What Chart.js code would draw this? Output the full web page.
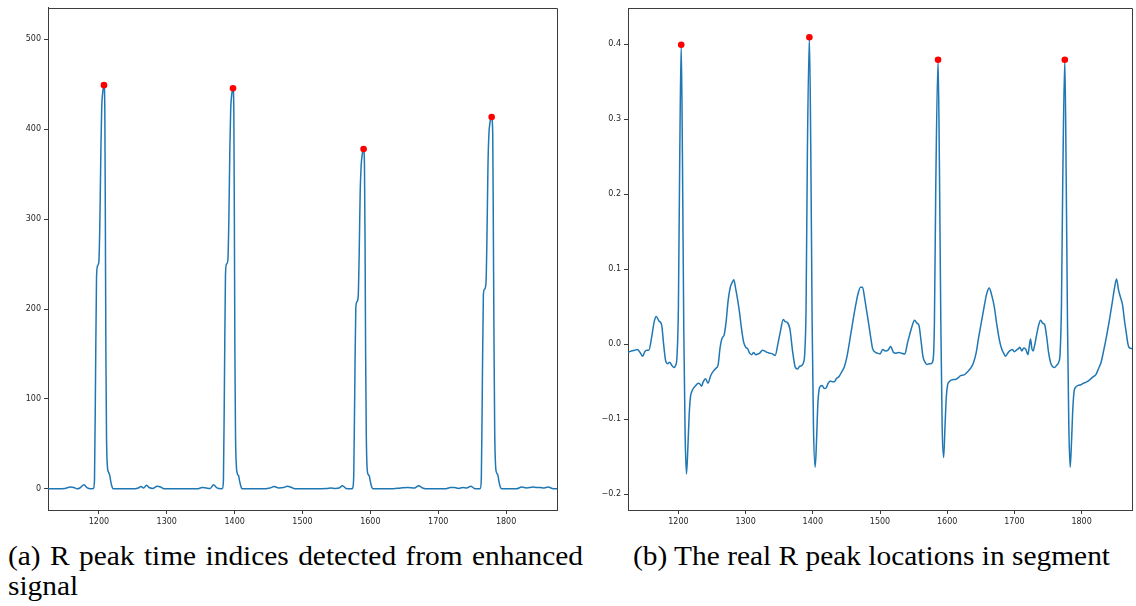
<!DOCTYPE html>
<html>
<head>
<meta charset="utf-8">
<script src="https://cdn.jsdelivr.net/npm/chart.js@4.4.1/dist/chart.umd.min.js"></script>
<style>
  body { margin: 0; background: #fff; width: 1136px; height: 606px; overflow: hidden; position: relative; }
  canvas { position: absolute; top: 0; }
  #enhanced { left: 0; }
  #segment { left: 580px; }
  .caption { position: absolute; font-family: "Liberation Serif", serif; font-size: 27px; line-height: 27px; color: #000; white-space: nowrap; transform-origin: 0 0; }
  #capA1 { left: 8px; top: 543px; }
  #capA2 { left: 8px; top: 573px; }
  #capB { left: 633px; top: 543px; }
</style>
</head>
<body>
<canvas id="enhanced" width="570" height="540"></canvas>
<canvas id="segment" width="556" height="540"></canvas>
<div class="caption" id="capA1">(a) R peak time indices detected from enhanced</div>
<div class="caption" id="capA2">signal</div>
<div class="caption" id="capB">(b) The real R peak locations in segment</div>
<script>
// enhanced signal: [sample index, amplitude]
const enhancedSignal = [
  [1125, 0], [1140, 0], [1150, 0.5], [1158, 2], [1163, 1.5], [1168, 0], [1172, 1], [1178, 4.5],
  [1183, 1], [1188, 0], [1192, 0.5],
  [1193.5, 10], [1195, 120], [1196.5, 235], [1198, 248], [1200, 253], [1201.5, 300], [1203, 380],
  [1204.2, 425], [1205.5, 440], [1207.5, 449], [1208.7, 425], [1209.5, 300], [1210.3, 150],
  [1211.2, 60], [1212.5, 25], [1214, 19], [1216, 15], [1217.5, 8], [1219.5, 2], [1221, 0],
  [1240, 0], [1250, 0], [1258, 1], [1262, 2.5], [1266, 1], [1270, 4], [1274, 1.5], [1279, 0.5],
  [1286, 3], [1291, 2], [1296, 0], [1320, 0], [1345, 0], [1352, 1.5], [1358, 1], [1364, 0.5],
  [1369, 4.5], [1374, 1], [1380, 0], [1382, 0.5],
  [1383.5, 10], [1385, 120], [1386.5, 238], [1388, 250], [1390, 254], [1391.5, 300], [1393, 380],
  [1394.2, 422], [1395.5, 437], [1397.6, 445.5], [1398.8, 422], [1399.6, 300], [1400.4, 150],
  [1401.3, 60], [1402.6, 25], [1404, 17], [1406, 14], [1407.5, 8], [1409.5, 2], [1411, 0],
  [1440, 0], [1452, 1], [1458, 2.5], [1465, 1], [1472, 1.5], [1478, 3], [1484, 1.5], [1490, 0],
  [1520, 0], [1536, 0.5], [1542, 1], [1548, 0.5], [1554, 1], [1559, 3.5], [1564, 0.5], [1572, 0], [1574, 1],
  [1575.5, 15], [1577, 110], [1578.5, 200], [1580, 208], [1582, 213], [1583.5, 260], [1585, 330],
  [1586.5, 360], [1588, 372], [1590, 378], [1591.3, 360], [1592.2, 270], [1593, 150], [1594, 60],
  [1595.3, 22], [1596.8, 16], [1598.5, 14], [1600, 8], [1602, 2], [1604, 0],
  [1630, 0], [1645, 1], [1655, 1.5], [1665, 1], [1671, 3.5], [1677, 1], [1685, 0],
  [1710, 0], [1718, 1.5], [1724, 1.5], [1730, 0.5], [1736, 1.5], [1742, 1], [1748, 3], [1753, 0.5],
  [1760, 0], [1762, 0.5],
  [1763.5, 12], [1765, 115], [1766.5, 215], [1768, 222], [1770.3, 228], [1771.8, 280], [1773.3, 360],
  [1774.7, 395], [1776.2, 407], [1778.7, 413.5], [1780.3, 395], [1781.2, 290], [1782.2, 160],
  [1783.2, 65], [1784.5, 26], [1786, 18], [1788, 15], [1789.5, 8], [1791.5, 2], [1793.5, 0],
  [1815, 0], [1823, 2], [1830, 1], [1840, 2], [1845, 1.5], [1850, 1.5], [1856, 1], [1862, 2],
  [1868, 0.5], [1875, 0]
];
const enhancedPeakIdx = [1207.5, 1397.6, 1590, 1778.7];
const enhancedPeakVal = [449, 445.5, 378, 413.5];

// raw ECG segment: [sample index, amplitude]
const ecgSegment = [
  [1125, -0.011], [1130, -0.009], [1135, -0.008], [1139, -0.007], [1143, -0.011], [1147, -0.016],
  [1150, -0.010], [1153, -0.008], [1156, -0.008], [1160, 0.008], [1164, 0.030], [1167, 0.037],
  [1171, 0.031], [1175, 0.026], [1178, 0.000], [1181, -0.022], [1184, -0.026], [1187, -0.024],
  [1190, -0.028], [1193, -0.031], [1196, -0.028], [1198, -0.015], [1200, 0.05], [1202, 0.25],
  [1204.2, 0.399], [1206, 0.25], [1208, 0.02], [1210, -0.12], [1212, -0.173], [1214, -0.14],
  [1216, -0.095], [1218, -0.070], [1220, -0.063], [1223, -0.058], [1226, -0.055], [1229.5, -0.052],
  [1232, -0.053], [1234.5, -0.056], [1237, -0.050], [1240.5, -0.046], [1244, -0.052], [1248, -0.042],
  [1252, -0.036], [1256, -0.032], [1259, -0.028], [1262, -0.005], [1265, 0.008], [1268, 0.012],
  [1271, 0.030], [1274, 0.058], [1277, 0.075], [1280.5, 0.083], [1282.5, 0.086], [1285, 0.075],
  [1288, 0.060], [1291, 0.042], [1294, 0.020], [1297, 0.003], [1300, -0.004], [1303, -0.006],
  [1306, -0.012], [1309, -0.014], [1312, -0.011], [1315, -0.014], [1318, -0.013], [1321, -0.012],
  [1325, -0.008], [1328, -0.009], [1332, -0.011], [1336, -0.012], [1340, -0.013], [1344, -0.015],
  [1348, 0.000], [1352, 0.018], [1356, 0.033], [1359, 0.030], [1362, 0.029], [1366, 0.020],
  [1370, -0.010], [1374, -0.031], [1377, -0.033], [1380, -0.030], [1384, -0.028], [1386, -0.025],
  [1388, -0.012], [1390, 0.05], [1392, 0.26], [1394.9, 0.409], [1397, 0.26], [1399, 0.03],
  [1401, -0.11], [1403.5, -0.164], [1405.5, -0.13], [1407.5, -0.08], [1409.5, -0.060],
  [1411.5, -0.056], [1414, -0.055], [1417, -0.059], [1420, -0.058], [1423, -0.052], [1426, -0.049],
  [1429, -0.050], [1432, -0.050], [1435, -0.046], [1439, -0.043], [1443, -0.037], [1447, -0.030],
  [1451, -0.016], [1455, 0.005], [1459, 0.027], [1463, 0.048], [1467, 0.066], [1471, 0.076],
  [1474, 0.076], [1477, 0.062], [1480, 0.045], [1483, 0.028], [1486, 0.010], [1489, -0.006],
  [1492, -0.010], [1496, -0.012], [1500, -0.013], [1504, -0.007], [1508, -0.009], [1512, -0.008],
  [1516, -0.003], [1520, -0.011], [1524, -0.012], [1528, -0.011], [1532, -0.012], [1537, -0.013],
  [1541, 0.002], [1544, 0.012], [1548, 0.025], [1551.5, 0.032], [1555, 0.028], [1558, 0.025],
  [1561, 0.005], [1564, -0.017], [1567, -0.024], [1570, -0.027], [1573, -0.026], [1576, -0.026],
  [1579, -0.021], [1581, 0.03], [1583, 0.21], [1586.4, 0.379], [1588.5, 0.23], [1590.5, 0.03],
  [1592.5, -0.11], [1594.7, -0.151], [1596.7, -0.110], [1598.7, -0.070], [1600.7, -0.054],
  [1603, -0.050], [1606, -0.048], [1609, -0.047], [1612, -0.047], [1616, -0.045], [1620, -0.042],
  [1625, -0.041], [1630, -0.037], [1635, -0.032], [1639, -0.025], [1643, -0.012], [1647, 0.010],
  [1651, 0.030], [1655, 0.050], [1659, 0.068], [1662.5, 0.075], [1666, 0.066], [1670, 0.050],
  [1674, 0.025], [1678, 0.004], [1681, -0.006], [1684, -0.012], [1687, -0.016], [1690, -0.012],
  [1693, -0.009], [1697, -0.007], [1700, -0.010], [1703, -0.008], [1706, -0.006], [1708, -0.004],
  [1711, -0.009], [1714, -0.005], [1717, -0.007], [1720, -0.014], [1722, -0.004], [1724, 0.007],
  [1726, -0.006], [1728, -0.009], [1730, -0.002], [1733, 0.012], [1736, 0.025], [1739, 0.032],
  [1742, 0.028], [1745, 0.026], [1748, 0.010], [1751, -0.012], [1754, -0.025], [1757, -0.030],
  [1760, -0.031], [1763, -0.028], [1766, -0.024], [1768, -0.012], [1770, 0.05], [1772, 0.22],
  [1775, 0.379], [1777, 0.23], [1779, 0.03], [1781, -0.11], [1783, -0.164], [1785, -0.13],
  [1787, -0.085], [1789, -0.062], [1791.5, -0.057], [1795, -0.055], [1799, -0.054], [1803, -0.052],
  [1806, -0.051], [1810, -0.049], [1814, -0.046], [1818, -0.043], [1821, -0.041], [1825, -0.033],
  [1829, -0.024], [1833, -0.008], [1837, 0.010], [1841, 0.030], [1845, 0.052], [1849, 0.075],
  [1852, 0.087], [1855, 0.072], [1858, 0.062], [1861, 0.052], [1864, 0.030], [1866, 0.018],
  [1869, 0.000], [1871, -0.005], [1875, -0.006]
];
const ecgPeakIdx = [1204.2, 1394.9, 1586.4, 1775];
const ecgPeakVal = [0.399, 0.409, 0.379, 0.379];

const xTicks = [1200, 1300, 1400, 1500, 1600, 1700, 1800];
const enhancedTicks = [0, 100, 200, 300, 400, 500];
const ecgTicks = [-0.2, -0.1, 0.0, 0.1, 0.2, 0.3, 0.4];

const lineBlue = '#1f77b4';
const axisColor = '#3c3c3c';
const textColor = '#262626';
const tickFont = { family: 'DejaVu Sans', size: 8 };

// matplotlib-style box: Chart.js only draws the left and bottom borders
const framePlugin = {
  id: 'frame',
  afterDraw(chart) {
    const { ctx, chartArea: a } = chart;
    ctx.save();
    ctx.strokeStyle = axisColor;
    ctx.lineWidth = 1;
    ctx.beginPath();
    ctx.moveTo(a.left, Math.round(a.top) + 0.5);
    ctx.lineTo(Math.round(a.right) + 0.5, Math.round(a.top) + 0.5);
    ctx.lineTo(Math.round(a.right) + 0.5, a.bottom);
    ctx.stroke();
    ctx.restore();
  }
};

function axis(min, max, ticks, fmt, size, isX) {
  return {
    type: 'linear',
    min: min,
    max: max,
    afterBuildTicks: (s) => { s.ticks = ticks.map(v => ({ value: v })); },
    afterFit: (s) => { if (isX) s.height = size; else s.width = size; },
    ticks: { font: tickFont, color: textColor, padding: 3, maxRotation: 0, autoSkip: false, callback: fmt },
    grid: { display: true, drawOnChartArea: false, drawTicks: true, tickLength: 4, tickColor: axisColor, lineWidth: 1 },
    border: { display: true, color: axisColor, width: 1 },
  };
}

function createChart(id, signal, peakIdx, peakVal, yMin, yMax, yTicks, yFmt, padding) {
  const ctx = document.getElementById(id).getContext('2d');
  return new Chart(ctx, {
    type: 'line',
    data: {
      datasets: [{
        data: peakIdx.map((x, i) => ({ x: x, y: peakVal[i] })),
        showLine: false,
        pointRadius: 3.3,
        pointBackgroundColor: '#ff0000',
        pointBorderWidth: 0,
        order: 0,
      }, {
        data: signal.map(p => ({ x: p[0], y: p[1] })),
        borderColor: lineBlue,
        borderWidth: 1.5,
        pointRadius: 0,
        cubicInterpolationMode: 'monotone',
        fill: false,
        order: 1,
      }],
    },
    options: {
      responsive: false,
      animation: false,
      events: [],
      layout: { padding: padding },
      plugins: { legend: { display: false }, tooltip: { enabled: false } },
      scales: {
        x: axis(1125, 1875, xTicks, (v) => String(v), 30, true),
        y: axis(yMin, yMax, yTicks, yFmt, 48, false),
      },
    },
    plugins: [framePlugin],
  });
}

createChart('enhanced', enhancedSignal, enhancedPeakIdx, enhancedPeakVal, -23.5, 535, enhancedTicks,
  (v) => String(v), { top: 4, right: 13, bottom: 0, left: 0 });

createChart('segment', ecgSegment, ecgPeakIdx, ecgPeakVal, -0.221, 0.448, ecgTicks,
  (v) => (v < 0 ? '\u2212' : '') + Math.abs(v).toFixed(1), { top: 8, right: 3, bottom: 0, left: 0 });

// captions: stretch to the width of the typeset originals
const capA1 = document.getElementById('capA1');
const capA2 = document.getElementById('capA2');
const capB = document.getElementById('capB');
const k = 477 / capB.getBoundingClientRect().width;
[capA1, capA2, capB].forEach(el => { el.style.transform = `scaleX(${k})`; });
const w1 = capA1.getBoundingClientRect().width / k;
capA1.style.wordSpacing = ((575 / k - w1) / 7) + 'px';
</script>
</body>
</html>
